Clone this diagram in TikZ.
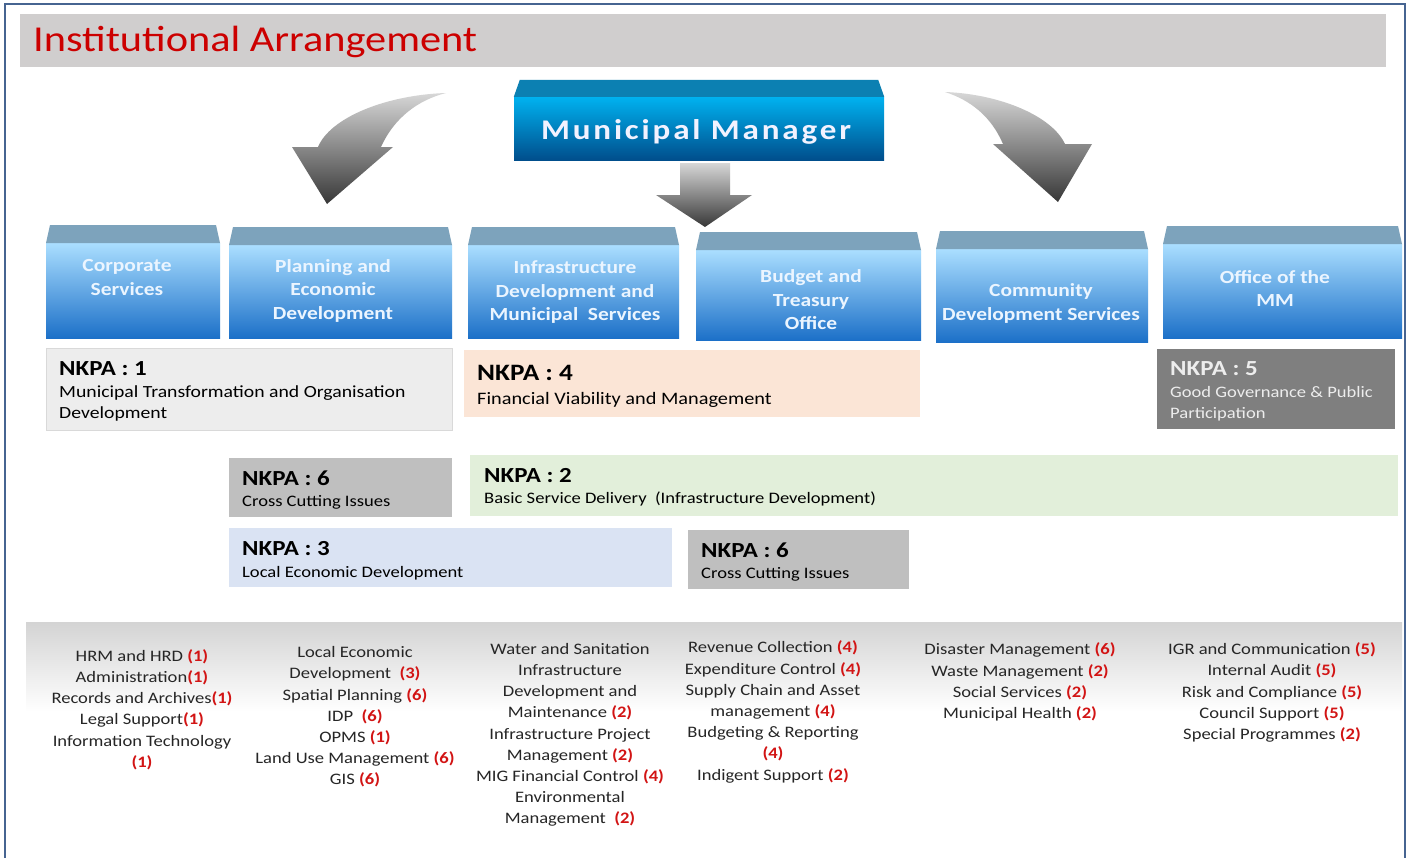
\documentclass[tikz,border=0pt]{standalone}
\usepackage{fontspec}
\setmainfont[FakeStretch=1.16]{Carlito}
\definecolor{titlebar}{RGB}{208,206,206}
\definecolor{titlered}{RGB}{204,0,0}
\definecolor{frameblue}{RGB}{70,100,145}
\definecolor{mmtop}{RGB}{12,128,178}
\definecolor{mmlight}{RGB}{0,178,240}
\definecolor{mmmid}{RGB}{0,140,215}
\definecolor{mmdark}{RGB}{0,78,140}
\definecolor{depttop}{RGB}{125,163,188}
\definecolor{deptlight}{RGB}{170,222,255}
\definecolor{deptmid}{RGB}{115,186,240}
\definecolor{deptdark}{RGB}{28,112,200}
\definecolor{depttxt}{RGB}{235,245,255}
\definecolor{nkpaone}{RGB}{237,237,237}
\definecolor{nkpafour}{RGB}{251,229,214}
\definecolor{nkpafive}{RGB}{127,127,127}
\definecolor{nkpasix}{RGB}{191,191,191}
\definecolor{nkpatwo}{RGB}{226,239,218}
\definecolor{nkpathree}{RGB}{218,227,243}
\definecolor{numred}{RGB}{210,20,20}
\definecolor{bodytext}{RGB}{38,38,38}
\definecolor{arrowlight}{RGB}{215,215,215}
\definecolor{arrowdark}{RGB}{55,55,55}
\newcommand\Num[1]{{\color{numred}\bfseries #1}}
\begin{document}
\begin{tikzpicture}[x=1pt,y=-1pt,
  deptface/.style={draw=none, inner sep=0pt, anchor=north west, top color=deptlight, middle color=deptmid, bottom color=deptdark},
  depttext/.style={text=depttxt, align=center, font=\bfseries\fontsize{18.5}{23.5}\selectfont, inner sep=0pt},
  nbox/.style={inner sep=0pt, anchor=north west, draw=white!85!black, line width=0.6pt},
  nhead/.style={anchor=west, inner sep=0pt, font=\bfseries\fontsize{21.5}{25}\selectfont, text=black},
  nbody/.style={anchor=west, inner sep=0pt, align=left, font=\fontsize{17}{21}\selectfont, text=black},
  list/.style={align=center, inner sep=0pt, text=bodytext, font=\fontsize{16}{21.2}\selectfont},
  arrowshape/.style={top color=arrowlight, bottom color=arrowdark, draw=none}
]
\useasboundingbox (0,0) rectangle (1411,857);
\fill[white] (0,0) rectangle (1411,857);
% frame
\draw[frameblue, line width=1.6pt] (5,870) -- (5,4) -- (1405,4) -- (1405,870);
% title bar
\fill[titlebar] (20,14) rectangle (1386,67);
\node[anchor=west, inner sep=0pt, text=titlered, font=\fontsize{36.5}{40}\selectfont] (title) at (33,42) {Institutional Arrangement};

% Municipal Manager
\node[draw=none, inner sep=0pt, minimum width=370pt, minimum height=63pt, top color=mmlight, middle color=mmmid, bottom color=mmdark] (mm) at (699,128.5) {};
\fill[mmtop] ([xshift=6pt,yshift=17pt]mm.north west) -- ([xshift=-6pt,yshift=17pt]mm.north east) -- (mm.north east) -- (mm.north west) -- cycle;
\node[text=white!95!blue, inner sep=0pt, font=\bfseries\fontsize{28.5}{32}\selectfont\addfontfeature{LetterSpace=10}] (mmt) at (696,132) {Municipal Manager};

% arrows
\path[arrowshape] (446,93) .. controls (385,95) and (330,118) .. (318,147) -- (292,147) -- (327,204) -- (393,147) -- (381,147) .. controls (394,118) and (418,100) .. (446,93) -- cycle;
\path[arrowshape] (945,92) .. controls (1000,94) and (1052,116) .. (1065,144) -- (1092,144) -- (1058,202) -- (993,144) -- (1003,144) .. controls (991,116) and (970,100) .. (945,92) -- cycle;
\path[arrowshape] (680,163) -- (730,163) -- (730,195) -- (752,195) -- (705,227) -- (656,195) -- (680,195) -- cycle;

% departments
\newcommand\DeptBox[6]{%
  \node[deptface, minimum width={(#3-#2)*1pt}, minimum height={(#6-#5)*1pt}] (#1) at (#2,#5) {};
  \fill[depttop] (#2+4,#4) -- (#3-4,#4) -- (#3,#5) -- (#2,#5) -- cycle;
}
\DeptBox{cs}{46}{220}{225}{243}{338}
\DeptBox{ped}{229}{452}{227}{245}{338}
\DeptBox{idm}{468}{679}{227}{245}{338}
\DeptBox{bto}{696}{921}{232}{250}{340}
\DeptBox{cds}{936}{1148}{231}{249}{342}
\DeptBox{omm}{1163}{1402}{226}{244}{338}
\node[depttext] (csT) at (127,277.5) {Corporate\\Services};
\node[depttext] (pedT) at (333,290.5) {Planning and\\Economic\\Development};
\node[depttext] (idmT) at (575,292.5) {Infrastructure\\Development and\\Municipal\ \ Services};
\node[depttext] (btoT) at (811,300) {Budget and\\Treasury\\Office};
\node[depttext] (cdsT) at (1041,303.5) {Community\\Development Services};
\node[depttext] (ommT) at (1275,288.5) {Office of the\\MM};

% NKPA boxes
\node[nbox, fill=nkpaone, minimum width=406pt, minimum height=82pt] (k1) at (46,348) {};
\node[nhead] (k1h) at (59,369) {NKPA : 1};
\node[nbody] (k1b) at (59,403.5) {Municipal Transformation and Organisation\\Development};

\node[nbox, draw=none, fill=nkpafour, minimum width=456pt, minimum height=67pt] (k4) at (464,350) {};
\node[nhead, font=\bfseries\fontsize{23.5}{27}\selectfont] (k4h) at (477,373) {NKPA : 4};
\node[nbody, font=\fontsize{17.5}{21}\selectfont] (k4b) at (477,400) {Financial Viability and Management};

\node[nbox, draw=none, fill=nkpafive, minimum width=238pt, minimum height=80pt] (k5) at (1157,349) {};
\node[nhead, text=white!93!black] (k5h) at (1170,369) {NKPA : 5};
\node[nbody, text=white!93!black, font=\fontsize{16}{21}\selectfont] (k5b) at (1170,403.5) {Good Governance \& Public\\Participation};

\node[nbox, draw=none, fill=nkpasix, minimum width=223pt, minimum height=59pt] (k6a) at (229,458) {};
\node[nhead] (k6ah) at (242,478) {NKPA : 6};
\node[nbody, font=\fontsize{16}{21}\selectfont] (k6ab) at (242,502) {Cross Cutting Issues};

\node[nbox, draw=none, fill=nkpatwo, minimum width=928pt, minimum height=61pt] (k2) at (470,455) {};
\node[nhead] (k2h) at (484,476) {NKPA : 2};
\node[nbody, font=\fontsize{16}{21}\selectfont] (k2b) at (484,499) {Basic Service Delivery\ \ (Infrastructure Development)};

\node[nbox, draw=none, fill=nkpathree, minimum width=443pt, minimum height=59pt] (k3) at (229,528) {};
\node[nhead] (k3h) at (242,549) {NKPA : 3};
\node[nbody, font=\fontsize{16}{21}\selectfont] (k3b) at (242,573) {Local Economic Development};

\node[nbox, draw=none, fill=nkpasix, minimum width=221pt, minimum height=59pt] (k6b) at (688,530) {};
\node[nhead] (k6bh) at (701,550) {NKPA : 6};
\node[nbody, font=\fontsize{16}{21}\selectfont] (k6bb) at (701,574) {Cross Cutting Issues};

% bottom panel
\shade[top color=black!17, bottom color=white] (26,622) rectangle (1402,712);
\node[list] (l1) at (142,709.5) {HRM and HRD \Num{(1)}\\Administration\Num{(1)}\\Records and Archives\Num{(1)}\\Legal Support\Num{(1)}\\Information Technology\\\Num{(1)}};
\node[list] (l2) at (355,717) {Local Economic\\Development\ \ \Num{(3)}\\Spatial Planning \Num{(6)}\\IDP\ \ \Num{(6)}\\OPMS \Num{(1)}\\Land Use Management \Num{(6)}\\GIS \Num{(6)}};
\node[list] (l3) at (570,735) {Water and Sanitation\\Infrastructure\\Development and\\Maintenance \Num{(2)}\\Infrastructure Project\\Management \Num{(2)}\\MIG Financial Control \Num{(4)}\\Environmental\\Management\ \ \Num{(2)}};
\node[list] (l4) at (773,712) {Revenue Collection \Num{(4)}\\Expenditure Control \Num{(4)}\\Supply Chain and Asset\\management \Num{(4)}\\Budgeting \& Reporting\\\Num{(4)}\\Indigent Support \Num{(2)}};
\node[list] (l5) at (1020,682) {Disaster Management \Num{(6)}\\Waste Management \Num{(2)}\\Social Services \Num{(2)}\\Municipal Health \Num{(2)}};
\node[list] (l6) at (1272,692.5) {IGR and Communication \Num{(5)}\\Internal Audit \Num{(5)}\\Risk and Compliance \Num{(5)}\\Council Support \Num{(5)}\\Special Programmes \Num{(2)}};
\end{tikzpicture}
\end{document}
